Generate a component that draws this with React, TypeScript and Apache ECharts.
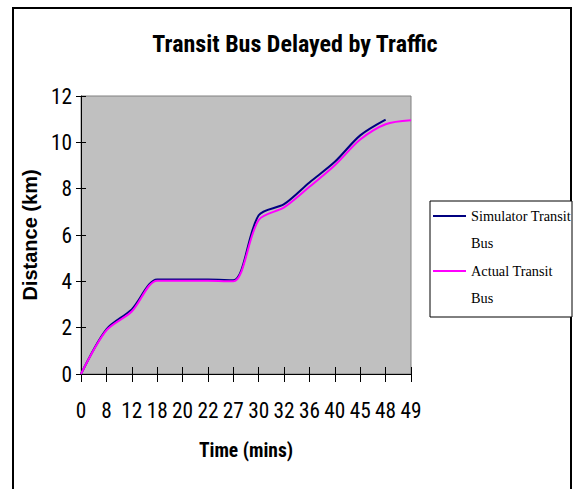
import React, { useEffect, useRef } from 'react';
import * as echarts from 'echarts';

const timeLabels = ['0', '8', '12', '18', '20', '22', '27', '30', '32', '36', '40', '45', '48', '49'];
const simulatorBus = [0, 1.93, 2.79, 4.08, 4.08, 4.08, 4.05, 6.85, 7.33, 8.27, 9.16, 10.3, 10.98, null];
const actualBus = [0, 1.88, 2.7, 4.03, 4.02, 4.02, 4.0, 6.65, 7.19, 8.08, 9.01, 10.12, 10.78, 10.95];
const seriesNames = ['Simulator Transit Bus', 'Actual Transit Bus'];
const yMin = 0;
const yMax = 12;
const yStep = 2;

const SANS = '"Liberation Sans", Arial, sans-serif';
const SERIF = '"Liberation Serif", "Times New Roman", serif';

function pickNarrow(): string {
  const cands = ['"Liberation Sans Narrow"', '"Arial Narrow"', '"Roboto Condensed"', '"DejaVu Sans Condensed"', '"Open Sans Condensed"'];
  const ctx = document.createElement('canvas').getContext('2d');
  if (!ctx) return SANS;
  const probe = 'Transit Bus 0123456789 mmwwii';
  for (const c of cands) {
    let differs = false;
    for (const base of ['monospace', 'serif']) {
      ctx.font = `20px ${base}`;
      const a = ctx.measureText(probe).width;
      ctx.font = `20px ${c}, ${base}`;
      const b = ctx.measureText(probe).width;
      if (Math.abs(a - b) > 0.5) differs = true;
      else { differs = false; break; }
    }
    if (differs) return `${c}, ${SANS}`;
  }
  return SANS;
}

function fitSize(text: string, family: string, weight: string, target: number, maxSize: number): number {
  const ctx = document.createElement('canvas').getContext('2d');
  if (!ctx) return maxSize;
  ctx.font = `${weight} 100px ${family}`;
  const w = ctx.measureText(text).width;
  if (!w) return maxSize;
  return Math.min(maxSize, Math.round((100 * target / w) * 10) / 10);
}

export default function App() {
  const ref = useRef<HTMLDivElement>(null);
  useEffect(() => {
    if (!ref.current) return;
    const NARROW = pickNarrow();
    const titleSize = fitSize('Transit Bus Delayed by Traffic', NARROW, 'bold', 287, 24);
    const tickSize = fitSize('12', NARROW, 'normal', 21, 22);
    const xNameSize = fitSize('Time (mins)', NARROW, 'bold', 94, 21);
    const legendSize = fitSize('Simulator Transit', SERIF, 'normal', 100, 16);
    const chart = echarts.init(ref.current, null, { renderer: 'svg' });
    const baseX = {
      type: 'category',
      data: timeLabels,
      boundaryGap: false,
      position: 'bottom',
    };
    const baseY = {
      type: 'value',
      min: yMin,
      max: yMax,
      interval: yStep,
      position: 'left',
      splitLine: { show: false },
    };
    chart.setOption({
      animation: false,
      backgroundColor: '#ffffff',
      title: {
        text: 'Transit Bus Delayed by Traffic',
        left: 295,
        textAlign: 'center',
        top: 45 - titleSize / 2 - 1,
        padding: 0,
        textStyle: { fontFamily: NARROW, fontWeight: 'bold', fontSize: titleSize, color: '#000' },
      },
      grid: { left: 81, right: 164, top: 96, bottom: 115, show: true, backgroundColor: '#C0C0C0', borderColor: '#808080', borderWidth: 1 },
      legend: {
        orient: 'vertical',
        left: 433,
        top: 175.5,
        padding: 0,
        itemGap: -26,
        itemWidth: 33,
        itemHeight: 2,
        icon: 'rect',
        data: seriesNames,
        formatter: (name: string) => '\n' + name.replace(' Bus', '\nBus'),
        textStyle: { fontFamily: SERIF, fontSize: legendSize, lineHeight: 27, color: '#000' },
      },
      xAxis: [
        {
          ...baseX,
          name: 'Time (mins)',
          nameLocation: 'middle',
          nameGap: 66,
          nameTextStyle: { fontFamily: NARROW, fontWeight: 'bold', fontSize: xNameSize, color: '#000' },
          axisLine: { show: true, lineStyle: { color: '#000', width: 1 } },
          axisTick: { show: true, inside: false, length: 8, lineStyle: { color: '#000' } },
          axisLabel: { interval: 0, margin: 26, fontFamily: NARROW, fontSize: tickSize, color: '#000' },
        },
        {
          ...baseX,
          axisLine: { show: false },
          axisTick: { show: true, inside: true, length: 7, lineStyle: { color: '#000' } },
          axisLabel: { show: false },
        },
      ],
      yAxis: [
        {
          ...baseY,
          name: 'Distance (km)',
          nameLocation: 'middle',
          nameGap: 40,
          nameTextStyle: { fontFamily: SANS, fontWeight: 'bold', fontSize: 20, color: '#000' },
          axisLine: { show: true, lineStyle: { color: '#000', width: 1 } },
          axisTick: { show: true, inside: false, length: 5, lineStyle: { color: '#000' } },
          axisLabel: { margin: 9, fontFamily: NARROW, fontSize: tickSize, color: '#000' },
        },
        {
          ...baseY,
          axisLine: { show: false },
          axisTick: { show: true, inside: true, length: 5, lineStyle: { color: '#000' } },
          axisLabel: { show: false },
        },
      ],
      graphic: [
        { type: 'rect', shape: { x: 13, y: 8, width: 558, height: 500 }, style: { fill: 'none', stroke: '#000', lineWidth: 2 }, z: -1, silent: true },
        { type: 'rect', shape: { x: 430, y: 201, width: 142, height: 116 }, style: { fill: '#fff', stroke: '#000', lineWidth: 1 }, z: -1, silent: true },
      ],
      series: [
        {
          name: seriesNames[0],
          type: 'line',
          data: simulatorBus,
          smooth: 0.3,
          symbol: 'none',
          itemStyle: { color: '#000080' },
          lineStyle: { color: '#000080', width: 2 },
        },
        {
          name: seriesNames[1],
          type: 'line',
          data: actualBus,
          smooth: 0.3,
          symbol: 'none',
          itemStyle: { color: '#FF00FF' },
          lineStyle: { color: '#FF00FF', width: 2 },
        },
      ],
    });
    return () => chart.dispose();
  }, []);
  return <div ref={ref} style={{ position: 'fixed', left: 0, top: 0, width: 575, height: 489 }} />;
}
